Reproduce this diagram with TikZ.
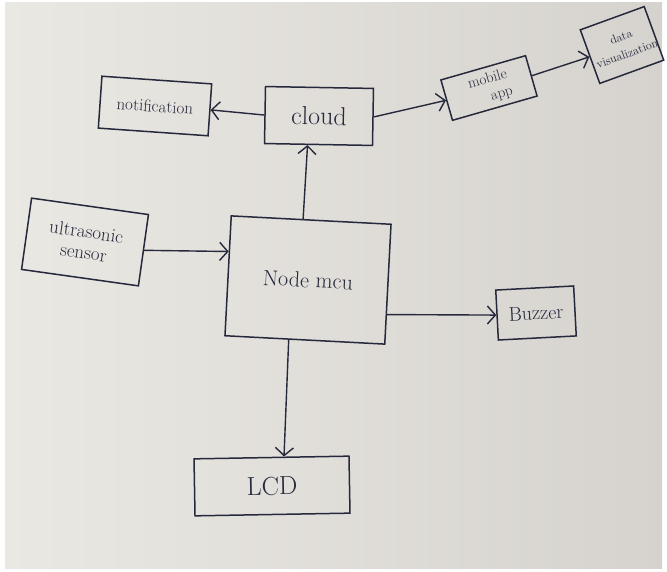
\documentclass[tikz,border=0pt]{standalone}
\usetikzlibrary{arrows.meta,calc}
\definecolor{ink}{RGB}{38,40,60}
\definecolor{paperL}{RGB}{234,232,227}
\definecolor{paperR}{RGB}{214,211,206}
\tikzset{
  blk/.style={draw=ink, line width=1.5pt, text=ink, align=center, inner sep=2pt},
  lbl/.style={text=ink, align=center, inner sep=0pt},
  arr/.style={draw=ink, line width=1.4pt, -{Straight Barb[length=8pt,width=18pt,line width=1.4pt]}},
}
\begin{document}
\begin{tikzpicture}[x=1pt,y=-1pt]
\useasboundingbox (0,0) rectangle (667,572);
\fill[white] (0,0) rectangle (667,572);
\shade[left color=paperL, right color=paperR] (5,3) rectangle (662,568);
\node[blk, minimum width=110, minimum height=52, rotate=-4, font=\fontsize{17}{18}\selectfont] (notif) at (155,106) {notification};
\node[blk, minimum width=108, minimum height=57, rotate=-1, font=\fontsize{26}{26}\selectfont] (cloud) at (319,116) {cloud};
\node[blk, minimum width=88, minimum height=42, rotate=16] (mobile) at (489,88) {};
\node[lbl, rotate=16, font=\fontsize{15}{15}\selectfont] (mobileT) at (490,88) {mobile\\[3pt]\hspace*{1.3em}app};
\node[blk, minimum width=68, minimum height=57, rotate=20] (data) at (622,45) {};
\node[lbl, rotate=20, font=\fontsize{12}{12}\selectfont] (dataT) at (624,45) {data\\[6pt]visualization};
\node[blk, minimum width=118, minimum height=72, rotate=-8, font=\fontsize{19}{21}\selectfont] (ultra) at (85,242) {ultrasonic\\sensor};
\node[blk, minimum width=160, minimum height=120, rotate=-3, font=\fontsize{22}{22}\selectfont] (mcu) at (308,280) {Node mcu};
\node[blk, minimum width=78, minimum height=50, rotate=3, font=\fontsize{20}{20}\selectfont] (buzz) at (536,313) {Buzzer};
\node[blk, minimum width=155, minimum height=57, rotate=1, font=\fontsize{26}{26}\selectfont] (lcd) at (272,486) {LCD};
\draw[arr] (cloud.west) -- (notif.east);
\draw[arr] ($(mcu.north west)!0.45!(mcu.north east)$) -- ($(cloud.south west)!0.4!(cloud.south east)$);
\draw[arr] (cloud.east) -- (mobile.west);
\draw[arr] (mobile.east) -- (data.west);
\draw[arr] (ultra.east) -- ($(mcu.north west)!0.3!(mcu.south west)$);
\draw[arr] ($(mcu.north east)!0.75!(mcu.south east)$) -- (buzz.west);
\draw[arr] ($(mcu.south west)!0.4!(mcu.south east)$) -- ($(lcd.north west)!0.58!(lcd.north east)$);
\end{tikzpicture}
\end{document}
